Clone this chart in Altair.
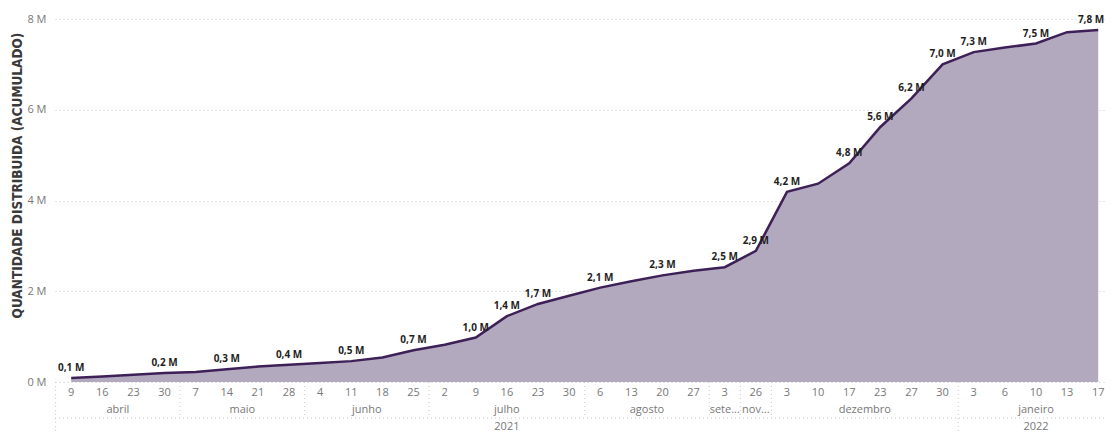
import altair as alt
import pandas as pd

# ---- data ----
days = ["9", "16", "23", "30", "7", "14", "21", "28", "4", "11", "18", "25",
        "2", "9", "16", "23", "30", "6", "13", "20", "27", "3", "26",
        "3", "10", "17", "23", "27", "30", "3", "6", "10", "13", "17"]
months = ["abril"] * 4 + ["maio"] * 4 + ["junho"] * 4 + ["julho"] * 5 + \
         ["agosto"] * 4 + ["sete..."] + ["nov..."] + ["dezembro"] * 6 + ["janeiro"] * 5
years = ["2021"] * 29 + ["2022"] * 5
values = [0.09, 0.12, 0.16, 0.20, 0.22, 0.28, 0.34, 0.38, 0.42, 0.46, 0.54, 0.70,
          0.82, 0.98, 1.45, 1.72, 1.90, 2.08, 2.22, 2.35, 2.45, 2.53, 2.89,
          4.19, 4.37, 4.82, 5.62, 6.25, 7.00, 7.27, 7.37, 7.46, 7.71, 7.76]
labels = ["0,1 M", "", "", "0,2 M", "", "0,3 M", "", "0,4 M", "", "0,5 M", "", "0,7 M",
          "", "1,0 M", "1,4 M", "1,7 M", "", "2,1 M", "", "2,3 M", "", "2,5 M", "2,9 M",
          "4,2 M", "", "4,8 M", "5,6 M", "6,2 M", "7,0 M", "7,3 M", "", "7,5 M", "", "7,8 M"]
y_ticks = [0, 2, 4, 6, 8]
y_title = "QUANTIDADE DISTRIBUIDA (ACUMULADO)"

W, H = 1051, 363
FONT = "Open Sans"
GRID = "#c8c8c8"

df = pd.DataFrame({"i": list(range(len(days))), "day": days, "month": months,
                   "year": years, "value": values, "label": labels})
last_i = int(df["i"].max())

df["mg"] = (df["month"] != df["month"].shift()).cumsum()
mg = df.groupby("mg").agg(month=("month", "first"), start=("i", "min"), end=("i", "max")).reset_index()
mg["center"] = (mg["start"] + mg["end"]) / 2
mg["edge"] = mg["start"] - 0.5

yg = df.groupby("year").agg(start=("i", "min"), end=("i", "max")).reset_index()
yg["center"] = (yg["start"] + yg["end"]) / 2
yg["edge"] = yg["start"] - 0.5

xscale = alt.Scale(domain=[-0.52, 33.25], nice=False, zero=False)
yscale = alt.Scale(domain=[0, 8], nice=False)
X = alt.X("i:Q", scale=xscale, axis=None)

base = alt.Chart(df)

area = base.mark_area(color="#B3A9BF", opacity=1).encode(
    x=X,
    y=alt.Y("value:Q", scale=yscale,
            axis=alt.Axis(values=y_ticks, labelExpr="datum.value + ' M'",
                          grid=True, gridDash=[1, 3], gridColor=GRID, gridWidth=1,
                          domain=False, ticks=False, labelColor="#777777",
                          labelFont=FONT, labelFontSize=11, labelPadding=9,
                          title=y_title, titleFont="DejaVu Sans Condensed, Roboto",
                          titleFontSize=13.5, titleFontWeight="bold", titleColor="#3a3a3a",
                          titleAngle=-90, titleX=-38, titleY=156,
                          titleAlign="center", titleBaseline="middle")),
)

line = base.mark_line(color="#3E2058", strokeWidth=2.5).encode(
    x=X, y=alt.Y("value:Q", scale=yscale),
)

label_style = dict(font=FONT, fontSize=10, fontWeight="bold", color="#1f1f1f", dy=-10, baseline="middle")

point_labels = base.transform_filter(f"datum.label != '' && datum.i < {last_i}").mark_text(
    **label_style
).encode(x=X, y=alt.Y("value:Q", scale=yscale), text="label:N")

last_label = base.transform_filter(f"datum.i == {last_i}").mark_text(
    align="right", dx=6, **label_style
).encode(x=X, y=alt.Y("value:Q", scale=yscale), text="label:N")

day_text = base.mark_text(font=FONT, fontSize=11, color="#777777", baseline="middle").encode(
    x=X, y=alt.value(H + 11), text="day:N",
)

month_text = alt.Chart(mg).mark_text(font=FONT, fontSize=11, color="#777777", baseline="middle").encode(
    x=alt.X("center:Q", scale=xscale, axis=None), y=alt.value(H + 28), text="month:N",
)

year_text = alt.Chart(yg).mark_text(font=FONT, fontSize=11, color="#777777", baseline="middle").encode(
    x=alt.X("center:Q", scale=xscale, axis=None), y=alt.value(H + 45), text="year:N",
)

month_sep = alt.Chart(mg).mark_rule(color=GRID, strokeDash=[1, 3], strokeWidth=1).encode(
    x=alt.X("edge:Q", scale=xscale, axis=None), y=alt.value(H), y2=alt.value(H + 36),
)

year_sep = alt.Chart(yg).mark_rule(color=GRID, strokeDash=[1, 3], strokeWidth=1).encode(
    x=alt.X("edge:Q", scale=xscale, axis=None), y=alt.value(H + 36), y2=alt.value(H + 50),
)

row_line = alt.Chart(pd.DataFrame({"k": [0]})).mark_rule(color=GRID, strokeDash=[1, 3], strokeWidth=1).encode(
    x=alt.value(0), x2=alt.value(W), y=alt.value(H + 36),
)

chart = alt.layer(
    area, line, month_sep, year_sep, row_line, day_text, month_text, year_text,
    point_labels, last_label
).properties(
    width=W, height=H,
    autosize=alt.AutoSizeParams(type="none"),
    padding={"left": 47, "top": 11, "right": 0, "bottom": 50},
    background="white",
).configure_view(stroke=None)

chart.save("out.html", embed_options={"renderer": "svg", "actions": False})
